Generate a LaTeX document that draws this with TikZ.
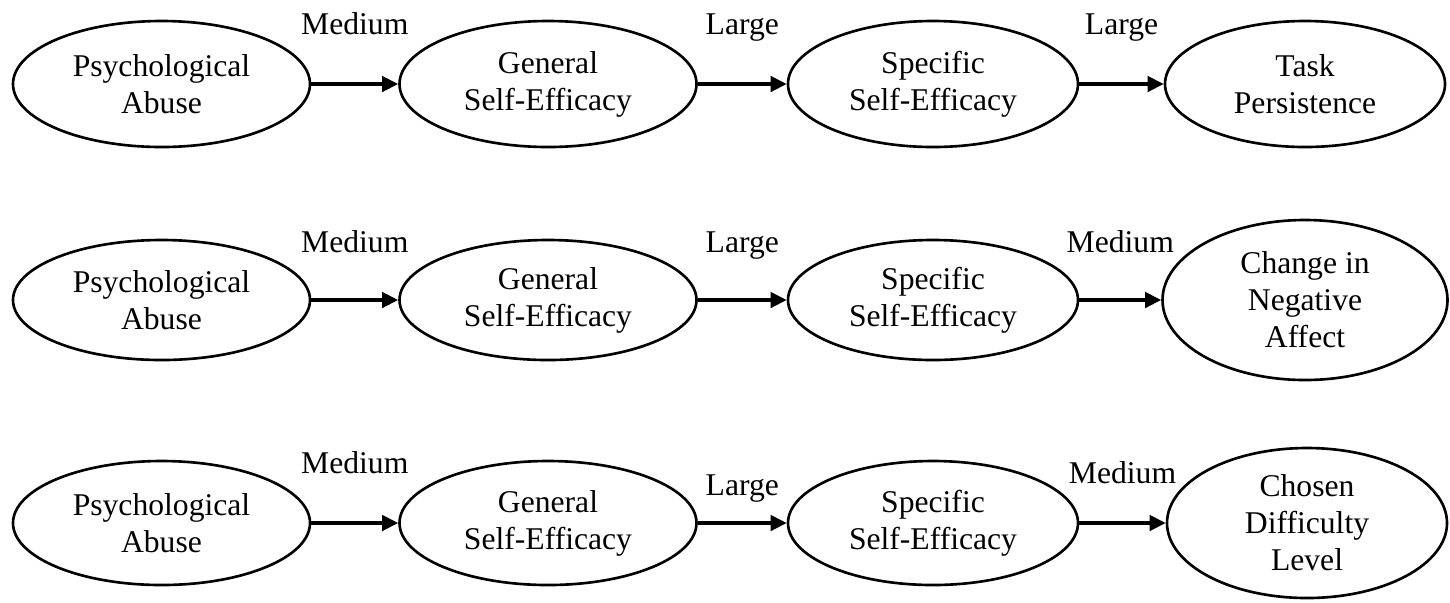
\documentclass[tikz,border=0pt]{standalone}
\usepackage{fontspec}
\setmainfont{Liberation Serif}
\usetikzlibrary{shapes.geometric,arrows.meta}

\begin{document}
\begin{tikzpicture}[
    >={Triangle[length=4.6pt,width=4.4pt]},
    every node/.style={font=\fontsize{9}{10.5}\selectfont},
    construct/.style={ellipse, draw, line width=0.75pt, align=center, inner sep=-8pt,
      minimum width=2.97cm, minimum height=1.26cm},
    link/.style={->, line width=1pt},
    effect/.style={anchor=base, inner sep=0pt, yshift=5mm}
  ]
    \useasboundingbox (0,0) rectangle (14.5,6.02);

    % Outcome 1: task persistence ----------------------------------
    \node[construct] (abuse1) at (1.615,5.18) {Psychological\\Abuse};
    \node[construct] (general1) at (5.48,5.18) {General\\Self-Efficacy};
    \node[construct, minimum width=2.90cm] (specific1) at (9.33,5.18) {Specific\\Self-Efficacy};
    \node[construct, minimum width=2.80cm] (task1) at (13.05,5.18) {Task\\Persistence};

    \draw[link] (abuse1) -- node[effect] {Medium} (general1);
    \draw[link] (general1) -- node[effect] {Large} (specific1);
    \draw[link] (specific1) -- node[effect] {Large} (task1);

    % Outcome 2: change in negative affect -------------------------
    \node[construct, minimum height=1.20cm] (abuse2) at (1.615,3.02) {Psychological\\Abuse};
    \node[construct, minimum height=1.20cm] (general2) at (5.48,3.02) {General\\Self-Efficacy};
    \node[construct, minimum width=2.90cm, minimum height=1.20cm] (specific2) at (9.33,3.02) {Specific\\Self-Efficacy};
    \node[construct, minimum width=2.85cm, minimum height=1.60cm] (affect2) at (13.05,3.02) {Change in\\Negative\\Affect};

    \draw[link] (abuse2) -- node[effect, yshift=-0.2mm] {Medium} (general2);
    \draw[link] (general2) -- node[effect, yshift=-0.2mm] {Large} (specific2);
    \draw[link] (specific2) -- node[effect, yshift=-0.2mm] {Medium} (affect2);

    % Outcome 3: chosen difficulty level ---------------------------
    \node[construct, minimum height=1.24cm] (abuse3) at (1.615,0.79) {Psychological\\Abuse};
    \node[construct, minimum height=1.24cm] (general3) at (5.48,0.79) {General\\Self-Efficacy};
    \node[construct, minimum width=2.90cm, minimum height=1.24cm] (specific3) at (9.33,0.79) {Specific\\Self-Efficacy};
    \node[construct, minimum width=2.80cm, minimum height=1.50cm] (level3) at (13.07,0.79) {Chosen\\Difficulty\\Level};

    \draw[link] (abuse3) -- node[effect] {Medium} (general3);
    \draw[link] (general3) -- node[effect, yshift=-2.2mm] {Large} (specific3);
    \draw[link] (specific3) -- node[effect, yshift=-1mm] {Medium} (level3);

  \end{tikzpicture}
\end{document}
